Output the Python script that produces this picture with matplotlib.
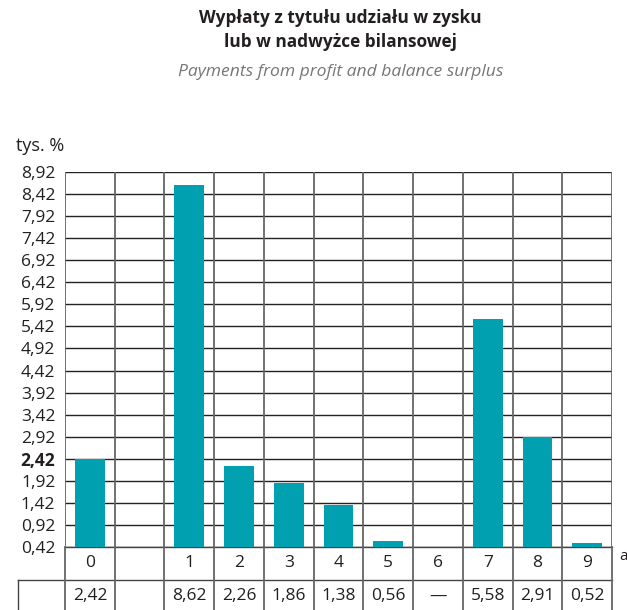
import matplotlib.pyplot as plt
import numpy as np

plt.rcParams['font.family'] = ['Open Sans', 'DejaVu Sans']

# columns of the chart (empty one between 0 and 1)
categories = ['0', '', '1', '2', '3', '4', '5', '6', '7', '8', '9']
values = [2.42, None, 8.62, 2.26, 1.86, 1.38, 0.56, None, 5.58, 2.91, 0.52]
value_labels = ['2,42', '', '8,62', '2,26', '1,86', '1,38', '0,56', '—', '5,58', '2,91', '0,52']
yticks = [0.42 + 0.5 * i for i in range(18)]

bar_color = '#00a0b1'
text_color = '#231f20'

fig = plt.figure(figsize=(6.27, 6.10), dpi=100)
ax = fig.add_axes([0.1037, 0.1033, 0.8724, 0.6147])

base = 0.42
x = np.arange(len(categories))
for xi, v in zip(x, values):
    if v is not None:
        ax.bar(xi, v - base, bottom=base, width=0.6, color=bar_color, zorder=3)

ax.set_xlim(-0.5, len(categories) - 0.5)
ax.set_ylim(0.42, 8.92)
ax.set_yticks(yticks)
ax.set_yticklabels([f'{t:.2f}'.replace('.', ',') for t in yticks])
for lab in ax.get_yticklabels():
    lab.set_fontsize(12.5)
    lab.set_color(text_color)
    if lab.get_text() == '2,42':
        lab.set_fontweight('bold')
ax.tick_params(axis='y', length=0, pad=7)
ax.set_xticks([])

# horizontal grid
for t in yticks:
    ax.axhline(t, color='#222222', lw=1.0, zorder=1)
# vertical column lines
for xb in np.arange(-0.5, len(categories), 1.0):
    ax.axvline(xb, color='#666666', lw=1.3, zorder=1)
for s in ax.spines.values():
    s.set_visible(False)

# table below the axes
tr = ax.get_xaxis_transform()
rh = 0.088
xl, xr = -0.5, len(categories) - 0.5
xl2 = -1.45
kw = dict(transform=tr, clip_on=False, color='#444444', lw=1.0)
ax.plot([xl, xr], [0, 0], **kw)
ax.plot([xl2, xr], [-rh, -rh], **kw)
ax.plot([xl2, xr], [-2 * rh, -2 * rh], **kw)
ax.plot([xl2, xl2], [-rh, -2 * rh], **kw)
for xb in np.arange(-0.5, len(categories), 1.0):
    ax.plot([xb, xb], [0, -2 * rh], transform=tr, clip_on=False,
            color='#666666', lw=1.3)
for xi, c, vl in zip(x, categories, value_labels):
    ax.text(xi, -rh / 2, c, transform=tr, ha='center', va='center',
            fontsize=12.5, color=text_color)
    ax.text(xi, -1.5 * rh, vl, transform=tr, ha='center', va='center',
            fontsize=12.5, color=text_color)
ax.text(xr + 0.15, -rh * 0.3, 'a', transform=tr, ha='left', va='center',
        fontsize=11, color=text_color)

ax.text(-0.52, 1.045, 'tys. %', transform=tr,
        ha='right', va='bottom', fontsize=13, color=text_color)

fig.text(0.543, 0.9705, 'Wypłaty z tytułu udziału w zysku',
         ha='center', va='center', fontsize=12.4, fontweight='bold',
         color=text_color)
fig.text(0.543, 0.931, 'lub w nadwyżce bilansowej',
         ha='center', va='center', fontsize=12.4, fontweight='bold',
         color=text_color)
fig.text(0.543, 0.882, 'Payments from profit and balance surplus',
         ha='center', va='center', fontsize=12.6, style='italic', color='#777777')

fig.savefig('out.png', dpi=100)
